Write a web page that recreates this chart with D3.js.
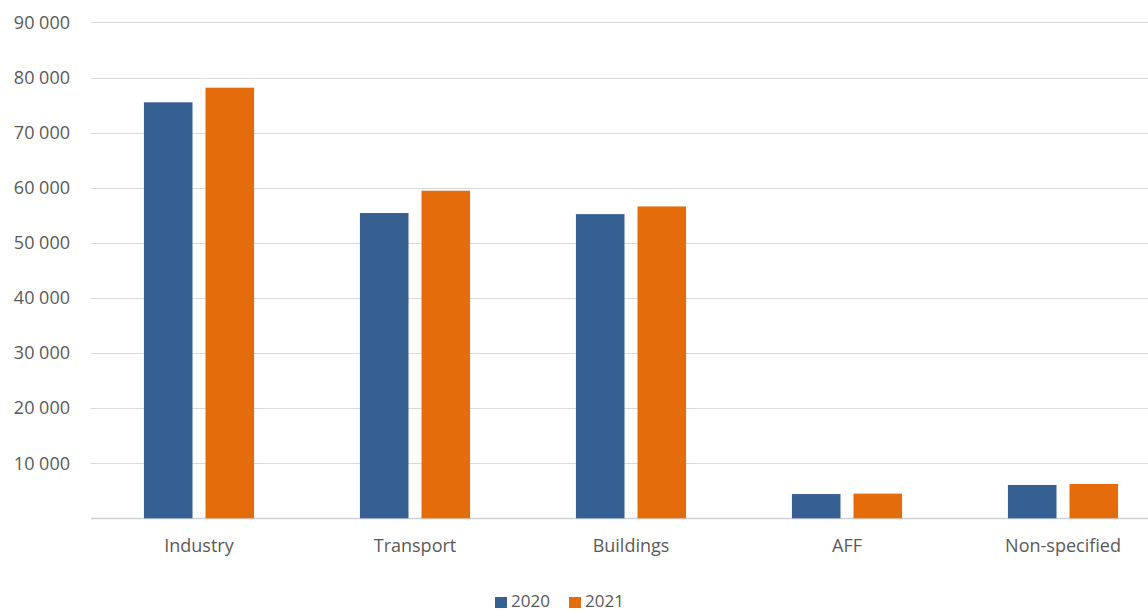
<!DOCTYPE html>
<html>
<head>
<meta charset="utf-8">
<script src="https://cdn.jsdelivr.net/npm/d3@7"></script>
<style>
  body { margin: 0; background: #fff; }
  text { font-family: "Open Sans", sans-serif; fill: #595959; }
</style>
</head>
<body>
<main></main>
<script>
const categories = ['Industry', 'Transport', 'Buildings', 'AFF', 'Non-specified']
const years = ['2020', '2021']
const values2020 = [75500, 55400, 55200, 4400, 6050]
const values2021 = [78150, 59450, 56600, 4480, 6230]
const yTicks = [10000, 20000, 30000, 40000, 50000, 60000, 70000, 80000, 90000]
const colors = {'2020': '#366092', '2021': '#e46c0a'}

const data = categories.map((c, i) => ({name: c, vote: [
  {axis: '2020', value: values2020[i]},
  {axis: '2021', value: values2021[i]}
]}))

const width = 1148
const height = 611
const plot = {left: 91, right: 1171, top: 22.4, bottom: 518.3}

const x0 = d3.scaleBand().domain(categories).range([plot.left, plot.right]).paddingInner(0.49).paddingOuter(0.245)
const x1 = d3.scaleBand().domain(years).range([0, x0.bandwidth()]).paddingInner(0.211)
const y = d3.scaleLinear().domain([0, 90000]).range([plot.bottom, plot.top])

const svg = d3.select('main').append('svg')
  .attr('width', width)
  .attr('height', height)

// gridlines
svg.append('g')
  .selectAll('line')
  .data([0, ...yTicks])
  .enter().append('line')
    .attr('x1', plot.left)
    .attr('x2', width)
    .attr('y1', d => Math.round(y(d)) + 0.5)
    .attr('y2', d => Math.round(y(d)) + 0.5)
    .attr('stroke', d => d === 0 ? '#d0d0d0' : '#d9d9d9')
    .attr('stroke-width', d => d === 0 ? 1.3 : 1)

// y labels
const fmt = d => d3.format(',')(d).replace(/,/g, ' ')
svg.append('g')
  .selectAll('text')
  .data(yTicks)
  .enter().append('text')
    .attr('x', 70)
    .attr('y', d => y(d))
    .attr('dy', '0.35em')
    .attr('text-anchor', 'end')
    .style('font-size', '18px')
    .text(fmt)

// x labels
svg.append('g')
  .selectAll('text')
  .data(categories)
  .enter().append('text')
    .attr('x', d => x0(d) + x0.bandwidth() / 2)
    .attr('y', 546)
    .attr('dy', '0.35em')
    .attr('text-anchor', 'middle')
    .style('font-size', '18px')
    .text(d => d)

// bars
svg.append('g')
  .selectAll('g')
  .data(data)
  .enter().append('g')
    .attr('transform', d => `translate(${x0(d.name)},0)`)
  .selectAll('rect')
  .data(d => d.vote)
  .enter().append('rect')
    .attr('x', d => x1(d.axis))
    .attr('width', x1.bandwidth())
    .attr('y', d => y(d.value))
    .attr('height', d => plot.bottom - y(d.value))
    .attr('fill', d => colors[d.axis])

// legend
const legend = svg.append('g')
  .selectAll('g')
  .data(years)
  .enter().append('g')
    .attr('transform', (d, i) => `translate(${495 + i * 74},0)`)

legend.append('rect')
  .attr('x', 0)
  .attr('y', 597)
  .attr('width', 12)
  .attr('height', 11)
  .attr('fill', d => colors[d])

legend.append('text')
  .attr('x', 16)
  .attr('y', 601.5)
  .attr('dy', '0.35em')
  .style('font-size', '17px')
  .text(d => d)
</script>
</body>
</html>
